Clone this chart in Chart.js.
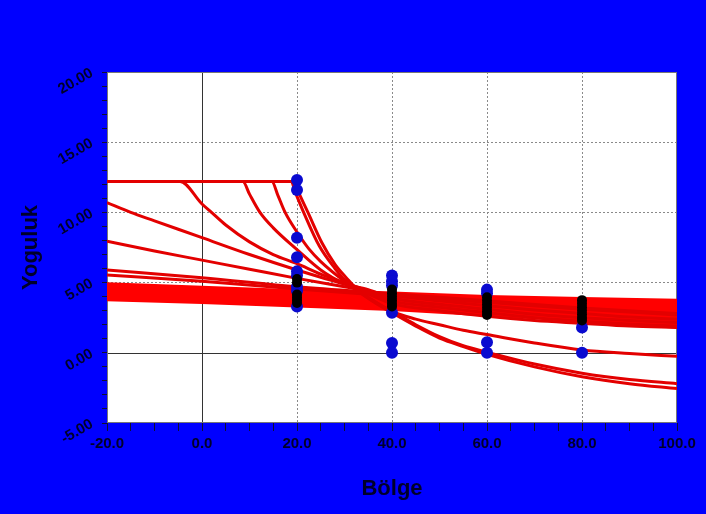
<!DOCTYPE html>
<html>
<head>
<meta charset="utf-8">
<script src="https://cdn.jsdelivr.net/npm/chart.js@4.4.1/dist/chart.umd.min.js"></script>
<style>
  html, body { margin: 0; padding: 0; background: #0000ff; }
  canvas { display: block; }
</style>
</head>
<body>
<canvas id="chart" width="706" height="514"></canvas>
<script>
// axis ticks that carry a label
const xMajorTicks = [-20, 0, 20, 40, 60, 80, 100];
const yMajorTicks = [-5, 0, 5, 10, 15, 20];

// thick red band (upper and lower edge)
const bandX = [-20, 0, 20, 40, 60, 80, 100];
const bandTop = [4.95, 4.7, 4.45, 4.3, 4.05, 3.9, 3.78];
const bandBottom = [3.75, 3.55, 3.3, 3.05, 2.65, 2.25, 1.78];

// red curves, [x, y] pairs
const curveSteepA = [[-20, 12.2], [19.3, 12.2], [20.5, 11.3], [22.3, 10], [25.3, 7.8], [28, 6.3], [30.5, 5.3], [33, 4.4], [36, 3.65], [40, 2.85], [45, 1.9], [50, 1.05], [55, 0.45], [60, -0.1], [70, -1.0], [80, -1.7], [90, -2.2], [100, -2.55]];
const curveSteepB = [[-20, 12.2], [18.7, 12.2], [19.8, 11.3], [21.4, 10], [24.7, 7.6], [28, 6.0], [30, 5.2], [33, 4.35], [36, 3.7], [40, 2.95], [45, 2.0], [50, 1.15], [55, 0.5], [60, 0.05], [70, -0.8], [80, -1.45], [90, -1.9], [100, -2.2]];
const curveMid = [[-20, 12.2], [14.7, 12.2], [16, 11.2], [17.5, 10], [20, 8.6], [22.5, 7.4], [25, 6.5], [30, 5.1], [35, 3.95], [40, 2.95], [45, 2.4], [50, 2.0], [55, 1.6], [60, 1.3], [70, 0.7], [80, 0.2], [90, -0.05], [100, -0.25]];
const curveBranch9 = [[-20, 12.2], [8.6, 12.2], [10, 11.3], [12.2, 10], [15, 8.9], [20, 7.35], [25, 5.9], [30, 4.9], [35, 4.2], [40, 3.5], [50, 3.0], [60, 2.6], [70, 2.3], [80, 2.1], [90, 1.9], [100, 1.8]];
const curveBranch5 = [[-20, 12.2], [-4.6, 12.2], [0, 10.6], [2, 10.0], [5, 9.1], [10, 7.9], [15, 7.0], [20, 6.35], [25, 5.6], [30, 5.0], [35, 4.4], [40, 3.7], [50, 3.25], [60, 2.85], [70, 2.5], [80, 2.25], [90, 2.05], [100, 1.9]];
const curveFrom107 = [[-20, 10.7], [-15, 10.0], [-10, 9.4], [0, 8.2], [10, 7.0], [20, 5.9], [30, 4.9], [35, 4.5], [40, 3.9], [50, 3.45], [60, 3.1], [70, 2.75], [80, 2.5], [90, 2.3], [100, 2.15]];
const curveFrom79 = [[-20, 7.95], [-10, 7.25], [0, 6.6], [10, 5.95], [20, 5.3], [30, 4.7], [40, 4.1], [50, 3.7], [60, 3.35], [70, 3.05], [80, 2.8], [90, 2.55], [100, 2.4]];
const curveFrom59 = [[-20, 5.9], [0, 5.35], [20, 4.7], [40, 4.2], [60, 3.7], [80, 3.2], [100, 2.8]];
const curveFrom55 = [[-20, 5.55], [0, 5.1], [20, 4.55], [40, 4.05], [60, 3.6], [80, 3.1], [100, 2.7]];

// observed points per station
const blueAt20 = [12.3, 11.6, 8.2, 6.8, 5.8, 5.5, 4.7, 4.4, 3.3];
const blackAt20 = [5.25, 5.0, 4.15, 3.95, 3.75, 3.55];
const blueAt40 = [5.5, 5.1, 4.8, 2.85, 0.7, 0.0];
const blackAt40 = [4.5, 4.25, 4.0, 3.75, 3.5, 3.3];
const blueAt60 = [4.5, 4.25, 0.75, 0.0];
const blackAt60 = [3.95, 3.7, 3.45, 3.2, 2.95, 2.7];
const blueAt80 = [1.8, 0.0];
const blackAt80 = [3.75, 3.5, 3.25, 3.0, 2.75, 2.5, 2.3];

const toPts = (arr) => arr.map(([x, y]) => ({ x, y }));
const atX = (x, ys) => ys.map(y => ({ x, y }));

const blackPts = [...atX(20, blackAt20), ...atX(40, blackAt40), ...atX(60, blackAt60), ...atX(80, blackAt80)];
const bluePts = [...atX(20, blueAt20), ...atX(40, blueAt40), ...atX(60, blueAt60), ...atX(80, blueAt80)];

const RED = '#e30000';
const curves = [curveSteepA, curveSteepB, curveMid, curveBranch9, curveBranch5, curveFrom107, curveFrom79, curveFrom59, curveFrom55];

const curveSets = curves.map(c => ({
  data: toPts(c),
  showLine: true,
  borderColor: RED,
  borderWidth: 3,
  pointRadius: 0,
  cubicInterpolationMode: 'monotone',
  fill: false
}));

const tickFont = { family: 'Liberation Sans, Arial, sans-serif', size: 15, weight: 'bold' };
const titleFont = { family: 'Liberation Sans, Arial, sans-serif', size: 22, weight: 'bold' };
const INK = '#00002a';

// white plot area, zero axes and frame
const plotFrame = {
  id: 'plotFrame',
  beforeDraw(chart) {
    const { ctx, chartArea: a } = chart;
    ctx.save();
    ctx.fillStyle = '#ffffff';
    ctx.fillRect(a.left, a.top, a.width, a.height);
    ctx.restore();
  },
  beforeDatasetsDraw(chart) {
    const { ctx, chartArea: a, scales } = chart;
    const x0 = Math.round(scales.x.getPixelForValue(0)) + 0.5;
    const y0 = Math.round(scales.y.getPixelForValue(0)) + 0.5;
    ctx.save();
    ctx.lineWidth = 1;
    ctx.strokeStyle = '#333';
    ctx.beginPath();
    ctx.moveTo(x0, a.top); ctx.lineTo(x0, a.bottom);
    ctx.moveTo(a.left, y0); ctx.lineTo(a.right, y0);
    ctx.stroke();
    ctx.strokeStyle = '#777';
    ctx.strokeRect(a.left + 0.5, a.top + 0.5, a.width - 1, a.height - 1);
    ctx.restore();
  }
};

new Chart(document.getElementById('chart'), {
  type: 'scatter',
  data: {
    datasets: [
      { data: blackPts, backgroundColor: '#000000', borderColor: '#000000', pointRadius: 5, borderWidth: 0 },
      { data: bluePts, backgroundColor: '#0a0ad0', borderColor: '#0a0ad0', pointRadius: 6, borderWidth: 0 },
      ...curveSets,
      {
        data: bandX.map((x, i) => ({ x, y: bandTop[i] })),
        showLine: true, borderColor: '#ff0000', borderWidth: 2, pointRadius: 0,
        backgroundColor: '#ff0000', fill: '+1'
      },
      {
        data: bandX.map((x, i) => ({ x, y: bandBottom[i] })),
        showLine: true, borderColor: '#ff0000', borderWidth: 2, pointRadius: 0, fill: false
      }
    ]
  },
  options: {
    responsive: false,
    animation: false,
    devicePixelRatio: 1,
    layout: { padding: { top: 72, right: 29, left: 0, bottom: 0 } },
    plugins: { legend: { display: false }, tooltip: { enabled: false } },
    scales: {
      x: {
        type: 'linear',
        min: -20, max: 100,
        afterFit: (s) => { s.height = 91; },
        border: { display: false, dash: [2, 2] },
        grid: {
          color: (c) => {
            const v = c.tick.value;
            return xMajorTicks.includes(v) && v !== 0 && v > -20 && v < 100 ? '#8a8a8a' : 'rgba(0,0,0,0)';
          },
          tickColor: '#101030',
          tickLength: 8,
          lineWidth: 1
        },
        ticks: {
          stepSize: 5,
          autoSkip: false,
          maxRotation: 0,
          padding: 4,
          color: INK,
          font: tickFont,
          callback: (v) => xMajorTicks.includes(v) ? v.toFixed(1) : ''
        },
        title: { display: true, text: 'Bölge', color: INK, font: titleFont, padding: { top: 0, bottom: 12 } }
      },
      y: {
        type: 'linear',
        min: -5, max: 20,
        afterFit: (s) => { s.width = 107; },
        border: { display: false, dash: [2, 2] },
        grid: {
          color: (c) => {
            const v = c.tick.value;
            return yMajorTicks.includes(v) && v !== 0 && v > -5 && v < 20 ? '#8a8a8a' : 'rgba(0,0,0,0)';
          },
          tickColor: '#101030',
          tickLength: 5,
          lineWidth: 1
        },
        ticks: {
          stepSize: 1,
          autoSkip: false,
          minRotation: 30,
          maxRotation: 30,
          padding: 10,
          color: INK,
          font: tickFont,
          callback: (v) => yMajorTicks.includes(v) ? v.toFixed(2) : ''
        },
        title: { display: true, text: 'Yoguluk', color: INK, font: titleFont, padding: { top: 18, bottom: 0 } }
      }
    }
  },
  plugins: [plotFrame]
});
</script>
</body>
</html>
